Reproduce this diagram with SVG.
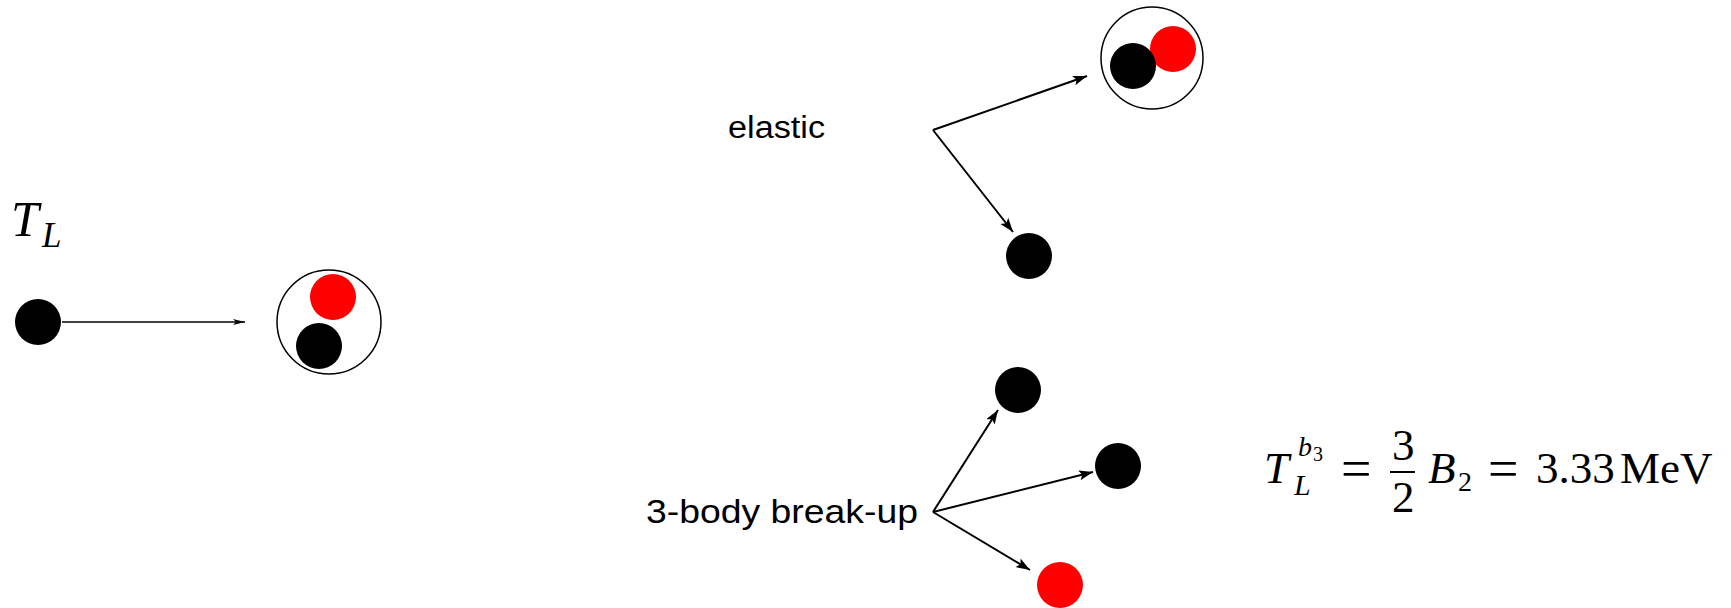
<svg xmlns="http://www.w3.org/2000/svg" width="1731" height="608" viewBox="0 0 1731 608">
<style>
.blk{fill:#000}
.red{fill:#ff0000}
.ring{fill:none;stroke:#000;stroke-width:1.5}
.ln{stroke:#000;stroke-width:2;fill:none}
.thin{stroke:#000;stroke-width:1.5;fill:none}
.sans{font-family:"Liberation Sans",Arial,sans-serif;fill:#000}
.serif{font-family:"Liberation Serif","Times New Roman",serif;fill:#000}
</style>
<defs>
<marker id="ah" markerUnits="userSpaceOnUse" markerWidth="16" markerHeight="12" refX="14" refY="5" orient="auto">
<path d="M0,0 L14,5 L0,10 L3,5 Z" fill="#000"/>
</marker>
<marker id="ahs" markerUnits="userSpaceOnUse" markerWidth="14" markerHeight="8" refX="12" refY="3" orient="auto">
<path d="M0,0 L12,3 L0,6 L3,3 Z" fill="#000"/>
</marker>
</defs>
<rect width="1731" height="608" fill="#fff"/>

<g id="label-TL">
<text class="serif" font-style="italic" font-size="50" x="11" y="236">T</text>
<text class="serif" font-style="italic" font-size="35" x="42" y="247">L</text>
</g>

<g id="projectile">
<circle class="blk" cx="38" cy="322" r="23"/>
</g>

<g id="target">
<circle class="ring" cx="329" cy="322" r="52"/>
<circle class="red" cx="333" cy="297" r="23"/>
<circle class="blk" cx="319" cy="346" r="23"/>
</g>

<g id="label-elastic">
<text class="sans" font-size="31" x="728" y="138" textLength="97" lengthAdjust="spacingAndGlyphs">elastic</text>
</g>

<g id="elastic-deuteron">
<circle class="ring" cx="1152" cy="58" r="51"/>
<circle class="red" cx="1173" cy="49" r="23"/>
<circle class="blk" cx="1133" cy="66" r="23"/>
</g>

<g id="elastic-nucleon">
<circle class="blk" cx="1029" cy="256" r="23"/>
</g>

<g id="label-breakup">
<text class="sans" font-size="34" x="646" y="523" textLength="272" lengthAdjust="spacingAndGlyphs">3-body break-up</text>
</g>

<g id="breakup-n1">
<circle class="blk" cx="1018" cy="390" r="23"/>
</g>
<g id="breakup-n2">
<circle class="blk" cx="1118" cy="466" r="23"/>
</g>
<g id="breakup-p">
<circle class="red" cx="1060" cy="585" r="23"/>
</g>

<g id="formula">
<text class="serif" font-size="45">
<tspan x="1264" y="483" font-style="italic">T</tspan>
<tspan x="1298" y="456" font-size="28" font-style="italic">b</tspan>
<tspan x="1313" y="461" font-size="20">3</tspan>
<tspan x="1294" y="495" font-size="30" font-style="italic">L</tspan>
<tspan x="1341" y="487" font-size="54">=</tspan>
<tspan x="1392" y="460">3</tspan>
<tspan x="1392" y="512">2</tspan>
<tspan x="1428" y="483" font-style="italic">B</tspan>
<tspan x="1458" y="491" font-size="28">2</tspan>
<tspan x="1488" y="487" font-size="54">=</tspan>
<tspan x="1536" y="483">3.33</tspan>
<tspan x="1620" y="483">MeV</tspan>
</text>
<line x1="1390" y1="472" x2="1415" y2="472" stroke="#000" stroke-width="2"/>
</g>

<g id="connectors">
<line class="thin" x1="62" y1="322" x2="245" y2="322" marker-end="url(#ahs)"/>
<line class="ln" x1="933" y1="130" x2="1087" y2="76" marker-end="url(#ah)"/>
<line class="ln" x1="933" y1="130" x2="1013" y2="232" marker-end="url(#ah)"/>
<line class="ln" x1="933" y1="512" x2="998" y2="410" marker-end="url(#ah)"/>
<line class="ln" x1="933" y1="512" x2="1093" y2="472" marker-end="url(#ah)"/>
<line class="ln" x1="933" y1="512" x2="1030" y2="570" marker-end="url(#ah)"/>
</g>
</svg>
